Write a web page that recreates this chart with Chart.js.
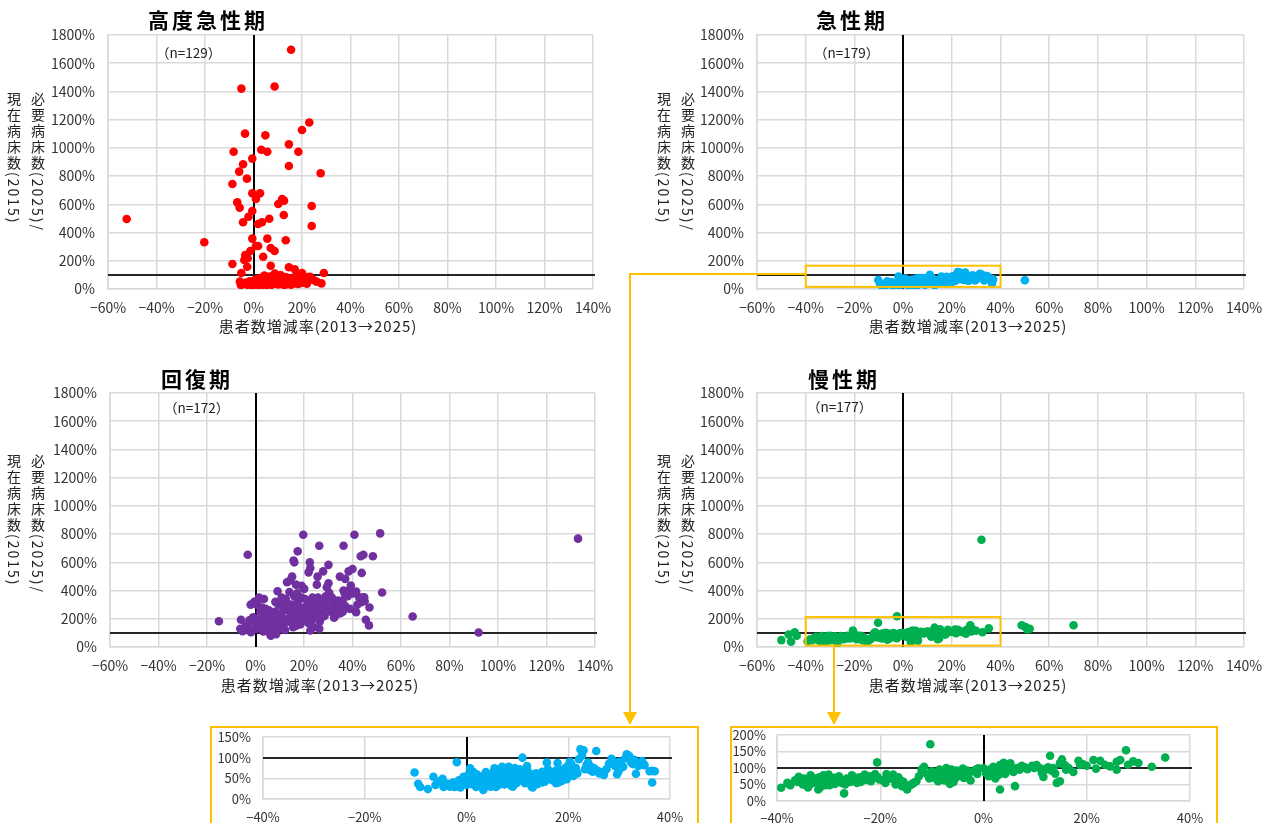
<!DOCTYPE html>
<html lang="ja">
<head>
<meta charset="utf-8">
<script src="https://cdn.jsdelivr.net/npm/chart.js@4.4.1/dist/chart.umd.min.js"></script>
<style>
body { margin: 0; background: #fff; }
#page { position: relative; width: 1270px; height: 823px; overflow: hidden; font-family: 'Noto Sans CJK JP', sans-serif; color: #000; }
canvas { position: absolute; }
.title { position: absolute; font-size: 21px; font-weight: bold; letter-spacing: 3px; line-height: 1; transform: translateX(-50%); white-space: nowrap; }
.xtitle { position: absolute; font-size: 15px; letter-spacing: 1px; line-height: 1; transform: translateX(-50%); white-space: nowrap; color: #222; }
.ytitle { position: absolute; writing-mode: vertical-rl; text-orientation: mixed; font-size: 14px; letter-spacing: 2px; line-height: 24px; color: #222; white-space: nowrap; }
.nlabel { position: absolute; font-size: 13.5px; line-height: 1; color: #222; white-space: nowrap; }
.orange { position: absolute; background: #FFC000; }
.inbox { position: absolute; border: 2px solid #FFC000; box-sizing: border-box; }
.arrow { position: absolute; width: 0; height: 0; border-left: 7px solid transparent; border-right: 7px solid transparent; border-top: 13px solid #FFC000; }
</style>
</head>
<body>
<div id="page">
  <canvas id="c1" width="620" height="345" style="left:0;top:0"></canvas>
  <canvas id="c2" width="630" height="345" style="left:640px;top:0"></canvas>
  <canvas id="c3" width="620" height="345" style="left:0;top:358px"></canvas>
  <canvas id="c4" width="630" height="345" style="left:640px;top:358px"></canvas>
  <div class="inbox" style="left:210px;top:726px;width:489px;height:120px"></div>
  <div class="inbox" style="left:730px;top:726px;width:488px;height:120px"></div>
  <canvas id="c5" width="484" height="95" style="left:212px;top:728px"></canvas>
  <canvas id="c6" width="483" height="95" style="left:732px;top:728px"></canvas>

  <div class="title" style="left:208px;top:9px">高度急性期</div>
  <div class="title" style="left:852px;top:9px">急性期</div>
  <div class="title" style="left:197px;top:368px">回復期</div>
  <div class="title" style="left:844px;top:368px">慢性期</div>

  <div class="xtitle" style="left:318px;top:318px">患者数増減率(2013→2025)</div>
  <div class="xtitle" style="left:968px;top:318px">患者数増減率(2013→2025)</div>
  <div class="xtitle" style="left:320px;top:677px">患者数増減率(2013→2025)</div>
  <div class="xtitle" style="left:968px;top:677px">患者数増減率(2013→2025)</div>

  <div class="ytitle" style="left:2px;top:92px">必要病床数(2025)/<br>現在病床数(2015)</div>
  <div class="ytitle" style="left:652px;top:92px">必要病床数(2025)/<br>現在病床数(2015)</div>
  <div class="ytitle" style="left:2px;top:454px">必要病床数(2025)/<br>現在病床数(2015)</div>
  <div class="ytitle" style="left:652px;top:454px">必要病床数(2025)/<br>現在病床数(2015)</div>

  <div class="nlabel" style="left:156px;top:46px">（n=129）</div>
  <div class="nlabel" style="left:814px;top:46px">（n=179）</div>
  <div class="nlabel" style="left:164px;top:401px">（n=172）</div>
  <div class="nlabel" style="left:807px;top:400px">（n=177）</div>

  <div class="orange" style="left:630px;top:273px;width:176px;height:2px"></div>
  <div class="orange" style="left:629px;top:273px;width:2px;height:440px"></div>
  <div class="arrow" style="left:623px;top:712px"></div>
  <div class="orange" style="left:833px;top:646px;width:2px;height:67px"></div>
  <div class="arrow" style="left:827px;top:712px"></div>
</div>

<script>
// values: [患者数増減率 %, 必要/現在病床数 %]
const titles = ['高度急性期', '急性期', '回復期', '慢性期'];
const colors = ['#FF0000', '#00B0F0', '#7030A0', '#00B050'];
const xTicks = [-60, -40, -20, 0, 20, 40, 60, 80, 100, 120, 140];
const yTicks = [0, 200, 400, 600, 800, 1000, 1200, 1400, 1600, 1800];
const zoomXTicks = [-40, -20, 0, 20, 40];
const acuteZoomYTicks = [0, 50, 100, 150];
const chronicZoomYTicks = [0, 50, 100, 150, 200];

const highAcute = [
  [15.5,1695],[-5,1420],[8.7,1435],[23,1180],[20,1127],[-3.5,1101],[4.9,1089],[14.6,1025],
  [-8.2,973],[3.2,987],[5.7,973],[18.5,973],[-0.5,924],[-4.3,884],[14.6,872],[27.7,820],
  [-5.9,832],[-2.7,782],[-8.7,744],[-0.5,678],[2.7,678],[1,638],[11.8,638],[12.6,626],
  [10.2,602],[-6.7,614],[-5.7,576],[24,588],[-0.5,553],[-2.1,512],[6.5,498],[12.5,524],
  [-4.3,473],[1.9,461],[3.5,473],[24,446],[-0.5,357],[5.7,357],[13.3,345],[1,305],
  [1.9,305],[7.1,291],[8.7,269],[-1.3,269],[-3.4,241],[4,229],[-2.4,218],[-3.8,206],
  [-8.7,177],[-2.6,158],[7.1,165],[14.6,154],[17,140],[29,113],[20,113],[-5,113],
  [-52.3,496],[-20.3,331],
  [-5.6,52],[-4.9,40],[-5.2,28],[-4,35],[-3,45],[-2.5,30],[-1.5,55],[-1,38],[-0.5,25],
  [0,48],[0.5,62],[0.8,33],[1.2,42],[1.5,70],[2,28],[2.3,55],[2.8,38],[3.2,80],[3.5,45],
  [3.8,30],[4.2,60],[4.5,95],[4.8,40],[5.2,52],[5.5,28],[5.8,72],[6.2,44],[6.5,35],
  [6.8,88],[7.2,58],[7.5,30],[7.8,48],[8.2,66],[8.5,38],[8.8,110],[9.2,52],[9.5,42],
  [9.8,75],[10.2,32],[10.5,60],[10.8,45],[11.2,98],[11.5,36],[11.8,55],[12.2,70],
  [12.5,40],[12.8,28],[13.2,85],[13.5,50],[13.8,62],[14.2,35],[14.5,45],[14.8,78],
  [15.2,55],[15.5,30],[16,68],[16.5,48],[17,40],[17.5,90],[18,58],[18.5,35],[19,50],
  [19.5,72],[20.5,45],[21,60],[22,38],[22.5,85],[24.7,64],[23.3,87],[26,52],[28,40]
];

const acute = [
  [-10.2,64],[-9.5,37],[-9.1,29],[-7.6,24],[-6.5,54],[-6.1,34],[-5.5,42],[-4.7,49],[-4.5,29],[-3.7,37],
  [-3.2,30],[-2.6,40],[-1.9,89],[-2.3,29],[-1.5,45],[-1,35],[-0.6,54],[-0.4,38],[-0.2,46],[0,34],[0.3,58],[-1.2,28],
  [0.7,74],[1,50],[1.3,66],[1.6,46],[1.9,29],[2.2,38],[2.5,55],[2.8,42],[3.1,54],[3.3,22],[3.6,42],[3.9,35],
  [4.2,60],[4.5,48],[4.8,30],[5,50],[1.1,36],[2,60],[2.6,33],[3,47],[3.5,28],[4,52],[4.7,40],[0.5,42],
  [1.5,58],[2.3,48],[3.8,65],[4.4,36],
  [5.2,62],[5.5,74],[5.8,29],[6,46],[6.2,55],[6.5,68],[6.8,40],[7,78],[7.2,52],[7.5,35],[7.8,60],[8,70],
  [8.2,44],[8.5,56],[8.8,32],[9,65],[9.2,48],[9.5,75],[9.8,38],[10,55],[5.3,42],[5.7,58],[6.3,34],[6.7,50],
  [7.3,65],[7.7,44],[8.3,78],[8.7,52],[9.3,40],[9.7,62],[6.1,72],[7.1,38],[8.1,60],[9.1,30],
  [10.3,45],[10.6,62],[11,100],[11.3,70],[11.6,48],[11.9,80],[12.2,58],[12.5,45],[12.8,30],[13.1,35],
  [13.4,52],[13.7,62],[14,42],[14.3,58],[14.6,50],[14.9,66],[10.8,44],[11.2,55],[11.5,38],[12,68],
  [12.4,50],[13,28],[13.5,46],[14.1,55],[14.8,40],[10.5,72],[12.7,60],[13.9,36],
  [15.2,52],[15.5,60],[15.8,88],[16.1,48],[16.4,66],[16.7,55],[17,45],[17.3,62],[17.6,38],[17.9,87],
  [18.2,52],[18.5,70],[18.8,44],[19.1,58],[19.4,75],[19.7,48],[20,62],[15.4,42],[16,72],[16.9,50],
  [17.5,68],[18.1,40],[18.7,62],[19.3,50],[19.9,80],[17.2,55],
  [20.3,90],[20.6,85],[20.9,60],[21.2,68],[21.5,75],[21.8,62],[22.1,96],[22.4,120],[22.7,105],[23,118],
  [23.3,72],[23.6,82],[23.9,88],[24.2,70],[24.5,78],[24.8,66],[25.1,74],[25.5,116],[25.8,68],[26.1,62],
  [26.5,65],[21,56],
  [26.8,62],[27.5,72],[28,85],[28.5,97],[28.8,92],[29.2,80],[29.6,60],[29.9,68],[30.3,75],[30.8,78],
  [31.2,98],[31.5,108],[31.8,102],[32,104],[32.4,88],[32.8,84],[33.3,61],[33.8,80],[34.2,85],[34.5,92],
  [35,82],[36,67],[36.5,68],[37,67],[36.5,40],[27,58],[30,90],[33,95],
  [50,62]
];

const recovery = [
  [19.7,796],[40.8,796],[51.4,805],[26.3,718],[36.3,718],[-3.2,654],[17.4,678],[44.5,654],[43.4,643],
  [48.4,643],[15.7,612],[16,600],[22.4,600],[30.1,582],[21.9,529],[22.6,560],[27.9,536],[40,553],
  [38.4,536],[43.8,525],[34.8,499],[37,483],[25.6,499],[15.1,499],[14.2,471],[13,459],[25.3,442],
  [30.1,452],[16.7,442],[19,433],[39.3,435],[38.6,400],[20.1,412],[9.1,395],[52.2,386],[41.5,393],
  [42.7,353],[44.8,353],[45,324],[43.6,317],[29.4,423],[30.4,384],[29.7,348],[36.3,400],[36.8,377],
  [35.9,329],[35.2,294],[41.5,247],[45.5,193],[46.8,153],[32.4,207],[26.3,129],[22.6,117],[-15.1,183],
  [-6,193],[-6.3,129],[-5.3,112],[-1.9,105],[-3.2,141],[64.8,216],[92,103],[133,768],
  [-4,150],[-2.5,190],[-1,210],[0,160],[0.5,300],[1,330],[1.5,350],[2,250],[2.5,180],[3,140],
  [3.5,340],[4,220],[4.5,120],[5,170],[5.5,260],[6,95],[6.3,80],[6.8,140],[7,200],[7.5,110],
  [8,250],[8.5,90],[9,160],[9.5,300],[10,180],[-0.5,320],[1.8,200],[2.8,280],[4.8,190],[6.5,230],
  [7.8,150],[9.8,130],[-2,300],[3.2,110],[5.8,130],[8.2,320],[0.2,130],[4.2,270],[6.2,170],[8.8,210],
  [10.5,240],[11,290],[11.5,150],[12,200],[12.5,340],[13,260],[13.5,180],[14,390],[14.5,220],[15,300],
  [15.5,140],[16,360],[16.5,250],[17,190],[17.5,320],[18,270],[18.5,160],[19,350],[19.5,230],[20,280],
  [10.8,350],[12.2,120],[13.8,300],[15.2,200],[16.8,150],[18.2,210],[19.8,190],[11.8,260],[14.8,270],[17.2,380],
  [20.5,340],[21,200],[21.5,260],[22,310],[22.5,230],[23,280],[23.5,350],[24,220],[24.5,300],[25,240],
  [25.5,330],[26,270],[26.5,180],[27,290],[27.5,250],[28,320],[28.5,220],[29,360],[30,280],[31,250],
  [32,310],[33,270],[34,330],[35,240],[24,140],[21.8,170],[27.2,210],[31.5,350],[33.5,230],[23.2,190],
  [28.8,300],[25.8,350],[37,290],[38,360],[39,270],[40,380],[42,300],[44,350],[36,250],[47,280]
];

const chronic = [
  [-50,49],[-47,88],[-46,37],[-44.5,105],[-43.7,80],[-2.5,218],[32.2,760],[48.7,154],[50.3,141],
  [52,129],[51,125],[70,154],
  [-39.2,40],[-38,55],[-37.4,48],[-36.5,63],[-35.8,73],[-34.5,63],[-34,41],[-33.5,78],[-33,55],[-32.5,68],
  [-32,35],[-31.8,72],[-31.5,60],[-31.2,50],[-31,78],[-30.8,65],[-30.5,55],[-30.2,72],[-30,62],[-30,80],
  [-36,58],[-35,50],[-33.8,47],[-32.8,62],[-31.6,42],[-30.6,48],[-37.8,52],[-34.8,68],[-33.2,70],[-30.4,75],
  [-29.5,58],[-29,70],[-28.5,62],[-28,75],[-27.5,55],[-27,23],[-26.5,68],[-26,60],[-25.5,78],[-25,65],
  [-24.5,55],[-24,72],[-23.5,62],[-23,80],[-22.5,68],[-22,75],[-21.5,70],[-21,82],[-20.6,117],[-20.2,65],
  [-29.8,48],[-28.8,52],[-27.8,66],[-26.8,50],[-25.8,58],[-24.8,70],[-23.8,58],[-22.8,64],[-21.8,60],[-20.5,72],
  [-19.5,62],[-19,55],[-18.5,75],[-18,68],[-17.5,80],[-17,50],[-16.5,72],[-16,62],[-15.5,58],[-15,42],
  [-14.8,35],[-14.2,48],[-13.5,55],[-13,60],[-12.5,75],[-12,95],[-11.5,104],[-11,82],[-10.5,68],[-10.3,172],
  [-10,90],[-18.8,82],[-17.2,62],[-15.8,45],[-13.8,52],
  [-9.5,70],[-9,85],[-8.5,95],[-8,78],[-7.5,62],[-7.2,100],[-7,88],[-6.8,72],[-6.5,52],[-6.2,95],
  [-6,80],[-5.5,68],[-5.2,92],[-5,75],[-4.5,85],[-4,98],[-3.8,70],[-3.5,88],[-3,78],[-2.5,62],
  [-2,90],[-1.5,95],[-1,99],[0,99],[-8.8,60],[-7.8,92],[-5.8,58],[-4.2,75],[-3.2,92],[-1.2,82],
  [0.5,85],[1,75],[1.6,78],[1.9,104],[2.3,68],[2.6,88],[3.2,109],[3.5,95],[3.9,116],[4.2,82],
  [4.5,100],[5.2,114],[5.5,92],[5.8,88],[6.1,45],[3.2,35],[6.5,100],[7,95],[7.4,107],[8,102],
  [8.5,96],[9.4,107],[9.8,100],[2,92],[4.8,110],[1.2,95],[3,80],[5,98],
  [10.3,109],[11,99],[11.3,85],[11.6,73],[12,95],[12.5,102],[12.9,137],[13.5,100],[13.9,83],[14.2,55],
  [14.8,60],[14.8,114],[15.2,126],[15.8,108],[16.5,100],[17.4,88],[18.4,122],[18.7,109],[19.2,112],[20,107],
  [16,95],[13.2,92],
  [21.3,124],[21.8,98],[22.6,122],[23.5,110],[24.5,105],[25.8,119],[25.8,95],[26.5,124],[27.6,154],[28,110],
  [30,115],[32.6,104],[35.2,132],[29,120]
];

Chart.defaults.font.family = "'Noto Sans CJK JP', sans-serif";
Chart.defaults.color = '#333';

// zero line, 100% line and the orange zoom frame
const refLines = {
  id: 'refLines',
  beforeDatasetsDraw(chart) {
    const { ctx, chartArea: a, scales: { x, y } } = chart;
    ctx.save();
    ctx.strokeStyle = '#000';
    ctx.lineWidth = 2;
    const px = Math.round(x.getPixelForValue(0));
    ctx.beginPath();
    ctx.moveTo(px, a.top);
    ctx.lineTo(px, a.bottom);
    ctx.stroke();
    const py = Math.round(y.getPixelForValue(100));
    ctx.strokeStyle = '#262626';
    ctx.beginPath();
    ctx.moveTo(a.left, py);
    ctx.lineTo(a.right + 2, py);
    ctx.stroke();
    ctx.restore();
  },
  afterDatasetsDraw(chart, args, opts) {
    if (!opts.box) return;
    const { ctx, scales: { x, y } } = chart;
    const b = opts.box;
    const x0 = x.getPixelForValue(b[0]), x1 = x.getPixelForValue(b[1]);
    const y0 = y.getPixelForValue(b[3]), y1 = y.getPixelForValue(b[2]);
    ctx.save();
    ctx.strokeStyle = '#FFC000';
    ctx.lineWidth = 2;
    ctx.strokeRect(x0, y0, x1 - x0, y1 - y0);
    ctx.restore();
  }
};

function pct(v) {
  return (v < 0 ? '−' : '') + Math.abs(v) + '%';
}

function makeScatter(id, pts, color, o) {
  const canvas = document.getElementById(id);
  const W = canvas.width, H = canvas.height;
  return new Chart(canvas, {
    type: 'scatter',
    data: {
      datasets: [{
        data: pts.map(p => ({ x: p[0], y: p[1] })),
        backgroundColor: color,
        borderWidth: 0,
        pointRadius: o.r,
        pointHoverRadius: o.r,
        clip: o.clip
      }]
    },
    options: {
      responsive: false,
      animation: false,
      events: [],
      layout: { padding: { left: 0, top: o.top, right: W - o.right, bottom: 0 } },
      plugins: { legend: { display: false }, tooltip: { enabled: false }, refLines: { box: o.box } },
      scales: {
        x: {
          type: 'linear',
          min: o.xTicks[0],
          max: o.xTicks[o.xTicks.length - 1],
          afterBuildTicks: s => { s.ticks = o.xTicks.map(v => ({ value: v })); },
          afterFit: s => { s.height = H - o.bottom; s.paddingLeft = 0; s.paddingRight = 0; },
          grid: { color: '#d9d9d9', lineWidth: 1.5, drawTicks: false },
          border: { color: '#d9d9d9', width: 1.5 },
          ticks: { padding: o.xPad, font: { size: o.font }, maxRotation: 0, autoSkip: false, callback: pct }
        },
        y: {
          type: 'linear',
          min: o.yTicks[0],
          max: o.yTicks[o.yTicks.length - 1],
          afterBuildTicks: s => { s.ticks = o.yTicks.map(v => ({ value: v })); },
          afterFit: s => { s.width = o.left; s.paddingTop = 0; s.paddingBottom = 0; },
          grid: { color: '#d9d9d9', lineWidth: 1.5, drawTicks: false },
          border: { color: '#d9d9d9', width: 1.5 },
          ticks: { padding: o.yPad, font: { size: o.font }, autoSkip: false, callback: pct }
        }
      }
    },
    plugins: [refLines]
  });
}

const mainLeft = { left: 108, right: 593, top: 35, bottom: 289, xTicks, yTicks, r: 4.3, font: 14, xPad: 10, yPad: 13 };
const mainRight = { left: 117, right: 604, top: 35, bottom: 289, xTicks, yTicks, r: 4.3, font: 14, xPad: 10, yPad: 13 };

makeScatter('c1', highAcute, colors[0], mainLeft);
makeScatter('c2', acute, colors[1], Object.assign({}, mainRight, { box: [-40, 40, 15, 165] }));
makeScatter('c3', recovery, colors[2], Object.assign({}, mainLeft, { left: 110, right: 595 }));
makeScatter('c4', chronic, colors[3], Object.assign({}, mainRight, { box: [-40, 40, 10, 212] }));

// zoomed insets
makeScatter('c5', acute, colors[1], {
  left: 51, right: 458, top: 9, bottom: 71, xTicks: zoomXTicks, yTicks: acuteZoomYTicks,
  r: 4.3, font: 13, xPad: 10, yPad: 12, clip: 0
});
makeScatter('c6', chronic, colors[3], {
  left: 45, right: 458, top: 7, bottom: 73, xTicks: zoomXTicks, yTicks: chronicZoomYTicks,
  r: 4.3, font: 13, xPad: 9, yPad: 11, clip: 0
});
</script>
</body>
</html>
